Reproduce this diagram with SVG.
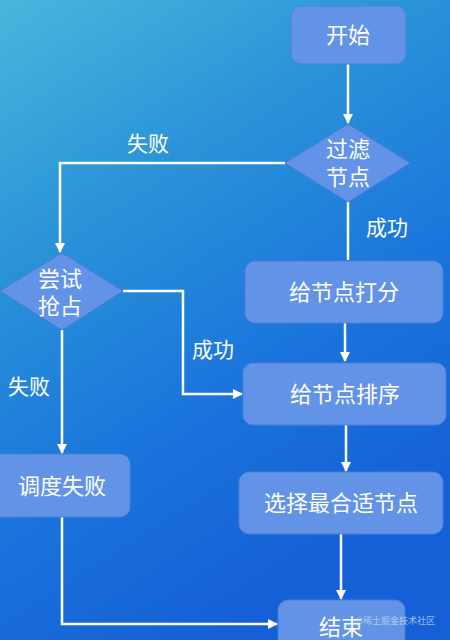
<svg xmlns="http://www.w3.org/2000/svg" width="450" height="640" viewBox="0 0 450 640">
<defs>
<linearGradient id="bg" x1="0" y1="0" x2="0.45" y2="1">
<stop offset="0" stop-color="#45b8dc"/>
<stop offset="0.35" stop-color="#2a93d8"/>
<stop offset="0.7" stop-color="#1a74dc"/>
<stop offset="1" stop-color="#1560d6"/>
</linearGradient>
<marker id="ah" viewBox="0 0 10 10" refX="9" refY="5" markerWidth="4" markerHeight="4" orient="auto" markerUnits="strokeWidth">
<path d="M0,0 L10,5 L0,10 z" fill="#ffffff"/>
</marker>
<style>
.n{fill:#6393e6;stroke:#4f7fd6;stroke-width:1}
.t{fill:#ffffff;font-family:"Noto Sans CJK SC","Noto Sans",sans-serif;font-size:22px;text-anchor:middle}
.l{fill:#ffffff;font-family:"Noto Sans CJK SC","Noto Sans",sans-serif;font-size:21px;text-anchor:middle}
.c{fill:none;stroke:#ffffff;stroke-width:2.5}
</style>
</defs>
<rect width="450" height="640" fill="url(#bg)"/>
<g id="connectors">
<path class="c" d="M348,64 V123" marker-end="url(#ah)"/>
<path class="c" d="M285,163 H60 V252" marker-end="url(#ah)"/>
<path class="c" d="M348,200 V260"/>
<path class="c" d="M345,323 V361" marker-end="url(#ah)"/>
<path class="c" d="M123,291 H183 V394 H242" marker-end="url(#ah)"/>
<path class="c" d="M62,330 V453" marker-end="url(#ah)"/>
<path class="c" d="M346,425 V471" marker-end="url(#ah)"/>
<path class="c" d="M341,534 V599" marker-end="url(#ah)"/>
<path class="c" d="M62,517 V624 H277" marker-end="url(#ah)"/>
<text class="l" x="148" y="151">失败</text>
<text class="l" x="387" y="235">成功</text>
<text class="l" x="213" y="357">成功</text>
<text class="l" x="29" y="394">失败</text>
</g>
<g id="start"><rect class="n" x="291" y="6" width="115" height="58" rx="10"/><text class="t" x="348" y="43">开始</text></g>
<g id="filter"><polygon class="n" points="348,124 410,163 348,202 285,163"/><text class="t" x="348" y="157">过滤<tspan x="348" dy="28">节点</tspan></text></g>
<g id="score"><rect class="n" x="245" y="261" width="198" height="62" rx="10"/><text class="t" x="344" y="300">给节点打分</text></g>
<g id="sort"><rect class="n" x="243" y="363" width="203" height="62" rx="10"/><text class="t" x="345" y="402">给节点排序</text></g>
<g id="preempt"><polygon class="n" points="62,253 123,291 62,330 0,291"/><text class="t" x="60" y="287">尝试<tspan x="60" dy="27">抢占</tspan></text></g>
<g id="fail"><rect class="n" x="-10" y="454" width="140" height="63" rx="10"/><text class="t" x="62" y="494">调度失败</text></g>
<g id="select"><rect class="n" x="239" y="472" width="204" height="62" rx="10"/><text class="t" x="341" y="511">选择最合适节点</text></g>
<g id="end"><rect class="n" x="278" y="600" width="127" height="60" rx="10"/><text class="t" x="341" y="635">结束</text></g>
<text x="435" y="624" fill="#c8d8ec" fill-opacity="0.8" font-family="'Noto Sans CJK SC',sans-serif" font-size="9" text-anchor="end">@稀土掘金技术社区</text>
</svg>
